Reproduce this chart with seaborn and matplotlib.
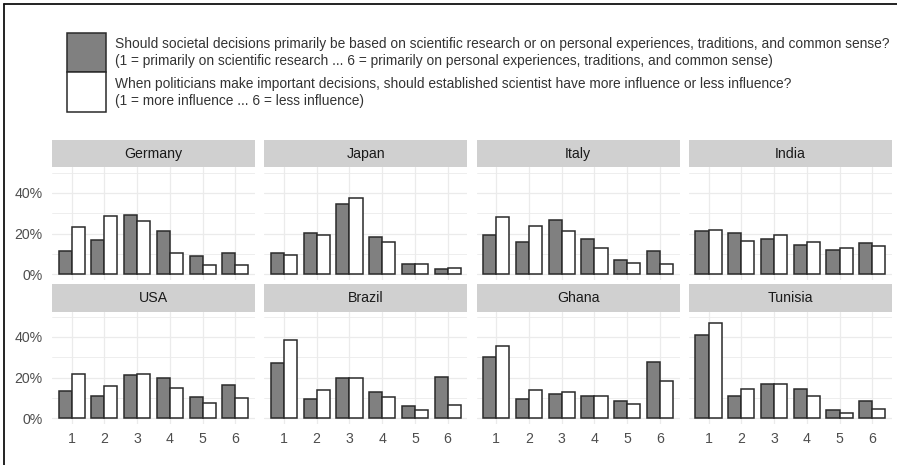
import matplotlib
matplotlib.use("Agg")
import matplotlib.pyplot as plt
import seaborn as sns
import pandas as pd
from matplotlib.patches import Rectangle
from matplotlib.lines import Line2D
from matplotlib.ticker import FixedLocator

# --- data (percent of respondents per answer 1..6) ---
responses = ["1", "2", "3", "4", "5", "6"]
countries = ["Germany", "Japan", "Italy", "India", "USA", "Brazil", "Ghana", "Tunisia"]

# q1: research vs. experience/tradition ; q2: influence of scientists on politics
germany_q1 = [11.5, 17.0, 29.2, 21.1, 9.0, 10.7]
germany_q2 = [23.1, 28.5, 26.4, 10.7, 4.4, 4.4]
japan_q1 = [10.7, 20.5, 34.8, 18.4, 5.3, 2.9]
japan_q2 = [9.3, 19.3, 37.5, 15.7, 5.3, 3.3]
italy_q1 = [19.2, 15.9, 26.9, 17.5, 7.2, 11.3]
italy_q2 = [28.2, 23.8, 21.1, 12.8, 5.7, 4.9]
india_q1 = [21.5, 20.3, 17.5, 14.6, 11.8, 15.4]
india_q2 = [21.8, 16.2, 19.2, 15.7, 13.1, 13.8]
usa_q1 = [13.3, 11.2, 21.1, 19.7, 10.6, 16.3]
usa_q2 = [21.8, 15.8, 22.0, 15.0, 7.6, 9.8]
brazil_q1 = [27.0, 9.4, 19.7, 13.0, 5.9, 20.5]
brazil_q2 = [38.5, 13.8, 19.7, 10.6, 3.9, 6.7]
ghana_q1 = [30.1, 9.6, 11.9, 10.9, 8.6, 27.5]
ghana_q2 = [35.8, 13.8, 13.0, 11.2, 7.0, 18.2]
tunisia_q1 = [41.1, 11.1, 16.8, 14.3, 4.2, 8.5]
tunisia_q2 = [46.8, 14.3, 17.1, 10.9, 2.8, 4.6]

q1_values = [germany_q1, japan_q1, italy_q1, india_q1, usa_q1, brazil_q1, ghana_q1, tunisia_q1]
q2_values = [germany_q2, japan_q2, italy_q2, india_q2, usa_q2, brazil_q2, ghana_q2, tunisia_q2]

label_q1 = ("Should societal decisions primarily be based on scientific research or on personal experiences, traditions, and common sense?\n"
            "(1 = primarily on scientific research ... 6 = primarily on personal experiences, traditions, and common sense)")
label_q2 = ("When politicians make important decisions, should established scientist have more influence or less influence?\n"
            "(1 = more influence ... 6 = less influence)")

# --- style ---
sns.set_theme(style="white")
plt.rcParams["font.family"] = ["Liberation Sans", "DejaVu Sans"]

GRAY_FILL = "#808080"
EDGE = "#2a2a2a"
GRID = "#EBEBEB"
STRIP = "#D0D0D0"
TEXT = "#333333"

W, H = 897, 465
fig = plt.figure(figsize=(W / 100, H / 100), dpi=100)


def box(left, top, width, height):
    # pixel box (from top-left) -> figure fraction
    return [left / W, 1 - (top + height) / H, width / W, height / H]


for i, country in enumerate(countries):
    row, col = divmod(i, 4)
    left = 52 + col * 212.3
    top = 167.5 + row * 144
    ax = fig.add_axes(box(left, top, 203, 112))

    df = pd.DataFrame({
        "response": responses * 2,
        "pct": q1_values[i] + q2_values[i],
        "question": ["q1"] * 6 + ["q2"] * 6,
    })
    sns.barplot(data=df, x="response", y="pct", hue="question",
                order=responses, hue_order=["q1", "q2"],
                palette={"q1": GRAY_FILL, "q2": "white"},
                edgecolor=EDGE, linewidth=1.1, width=0.8,
                legend=False, ax=ax)

    ax.set_xlim(-0.6, 5.6)
    ax.set_ylim(-2.5, 52.5)
    ax.set_yticks([0, 20, 40])
    ax.yaxis.set_minor_locator(FixedLocator([10, 30, 50]))
    ax.set_axisbelow(True)
    ax.grid(which="major", color=GRID, linewidth=0.9)
    ax.grid(which="minor", axis="y", color=GRID, linewidth=0.6)
    for s in ax.spines.values():
        s.set_visible(False)
    ax.tick_params(length=0, which="both", colors="#4D4D4D", labelsize=10.2)
    ax.tick_params(axis="y", pad=7)
    ax.tick_params(axis="x", pad=6)
    ax.set_xlabel("")
    ax.set_ylabel("")
    if col == 0:
        ax.set_yticklabels(["0%", "20%", "40%"])
    else:
        ax.set_yticklabels([])
    if row == 0:
        ax.set_xticklabels([])

    # facet strip
    sax = fig.add_axes(box(left, top - 27.5, 203, 27.5))
    sax.set_facecolor(STRIP)
    sax.set_xticks([])
    sax.set_yticks([])
    for s in sax.spines.values():
        s.set_visible(False)
    sax.text(0.5, 0.5, country, ha="center", va="center",
             fontsize=10.2, color="#1A1A1A", transform=sax.transAxes)

# --- legend (drawn by hand, ggplot-style stacked keys) ---
fig.add_artist(Rectangle((67 / W, 1 - 72 / H), 39 / W, 39 / H, transform=fig.transFigure,
                         facecolor=GRAY_FILL, edgecolor=EDGE, linewidth=1.1))
fig.add_artist(Rectangle((67 / W, 1 - 112 / H), 39 / W, 40 / H, transform=fig.transFigure,
                         facecolor="white", edgecolor=EDGE, linewidth=1.1))
fig.text(115 / W, 1 - 52.5 / H, label_q1, ha="left", va="center",
         fontsize=9.9, color=TEXT, linespacing=1.2)
fig.text(115 / W, 1 - 92.5 / H, label_q2, ha="left", va="center",
         fontsize=9.9, color=TEXT, linespacing=1.2)

# frame lines (left and top)
fig.add_artist(Line2D([4 / W, 4 / W], [0, 1 - 4 / H], color="#111111", linewidth=1.3))
fig.add_artist(Line2D([4 / W, 1], [1 - 4 / H, 1 - 4 / H], color="#111111", linewidth=1.3))

fig.savefig("out.png", dpi=100)
